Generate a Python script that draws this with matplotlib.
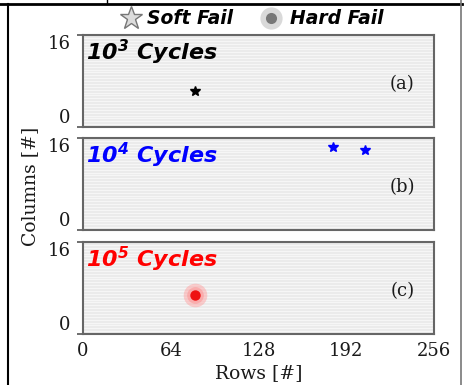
import numpy as np
import matplotlib
matplotlib.use('Agg')
import matplotlib.pyplot as plt
from matplotlib.lines import Line2D

plt.rcParams['mathtext.fontset'] = 'custom'
plt.rcParams['mathtext.bf'] = 'DejaVu Sans:bold:italic'
plt.rcParams['mathtext.rm'] = 'DejaVu Sans:bold:italic'

# data: failing cells (row, column) per cycle count
cycles = [3, 4, 5]
panel_tags = ['(a)', '(b)', '(c)']
title_colors = ['black', 'blue', 'red']
soft_rows = [[82], [182, 206], []]
soft_cols = [[6.3], [14.4, 13.9], []]
hard_rows = [[], [], [82]]
hard_cols = [[], [], [6.8]]
xticks = [0, 64, 128, 192, 256]
yticks = [0, 16]

fig = plt.figure(figsize=(4.67, 3.85), dpi=100)
W, H = 467, 385

def fx(px):
    return px / W

def fy(py):
    return 1 - py / H

# table borders around the figure
fig.add_artist(Line2D([0, fx(462)], [fy(3.5), fy(3.5)], color='black', lw=2))
fig.add_artist(Line2D([fx(8), fx(8)], [fy(3.5), 0], color='black', lw=1.5))
fig.add_artist(Line2D([fx(107), fx(107)], [1, fy(3.5)], color='black', lw=1))
fig.add_artist(Line2D([fx(461), fx(461)], [1, 0], color='#777777', lw=1.2))

serif = 'DejaVu Serif'
txtc = '#1a1a1a'
tops = [35, 138, 242]
axes = []
for i in range(3):
    top = tops[i]
    ax = fig.add_axes([fx(83), fy(top + 92), fx(351), 92 / H])
    axes.append(ax)
    ax.set_facecolor('#e9e9e9')
    ax.set_xlim(0, 256)
    ax.set_ylim(0, 16)
    ax.set_yticks(yticks)
    ax.set_yticks(np.arange(0, 16.01, 0.5), minor=True)
    ax.grid(True, which='minor', axis='y', color='#f6f6f6', lw=1.0)
    ax.tick_params(axis='y', which='minor', length=0)
    ax.tick_params(axis='y', which='major', length=4, width=1.2, color='#555555', pad=5)
    for s in ax.spines.values():
        s.set_color('#666666')
        s.set_linewidth(1.5)
    ax.set_xticks(xticks)
    if i < 2:
        ax.tick_params(axis='x', length=0, labelbottom=False)
    else:
        ax.tick_params(axis='x', length=0, pad=6)
    for lab in ax.get_xticklabels() + ax.get_yticklabels():
        lab.set_fontfamily(serif)
        lab.set_fontsize(13)
        lab.set_color(txtc)
    ylabs = ax.get_yticklabels()
    ylabs[0].set_verticalalignment('bottom')
    ylabs[1].set_verticalalignment('top')

    ax.plot(soft_rows[i], soft_cols[i], linestyle='none', marker='*',
            markersize=7.5, color=title_colors[i], zorder=5)
    if hard_rows[i]:
        ax.plot(hard_rows[i], hard_cols[i], linestyle='none', marker='o',
                markersize=17, color='#ff9999', alpha=0.45, mec='none', zorder=4)
        ax.plot(hard_rows[i], hard_cols[i], linestyle='none', marker='o',
                markersize=12, color='#ff8080', alpha=0.4, mec='none', zorder=4)
        ax.plot(hard_rows[i], hard_cols[i], linestyle='none', marker='o',
                markersize=7.5, color='#ee1111', mec='none', zorder=5)

    ax.text(0.008, 0.97, r'$\mathbf{10^{%d}}$ Cycles' % cycles[i],
            transform=ax.transAxes, ha='left', va='top', fontsize=16,
            fontweight='bold', fontstyle='italic', color=title_colors[i],
            family='DejaVu Sans')
    ax.text(0.91, 0.47, panel_tags[i], transform=ax.transAxes, ha='center',
            va='center', fontsize=13, family=serif, color=txtc)

axes[2].set_xlabel('Rows [#]', family=serif, fontsize=13.5, color=txtc, labelpad=3)
fig.text(fx(30), fy(186), 'Columns [#]', rotation=90, ha='center', va='center',
         family=serif, fontsize=13.5, color=txtc)

# legend across the top
fig.add_artist(Line2D([fx(131)], [fy(18)], marker='*', markersize=17,
                      markerfacecolor='#dcdcdc', markeredgecolor='#777777',
                      markeredgewidth=1.0, linestyle='none'))
fig.text(fx(147), fy(18), 'Soft Fail', ha='left', va='center', fontsize=13.5,
         fontweight='bold', fontstyle='italic', family='DejaVu Sans')
fig.add_artist(Line2D([fx(271)], [fy(18)], marker='o', markersize=16,
                      markerfacecolor='#d0d0d0', markeredgecolor='none',
                      alpha=0.8, linestyle='none'))
fig.add_artist(Line2D([fx(271)], [fy(18)], marker='o', markersize=8,
                      markerfacecolor='#777777', markeredgecolor='none',
                      linestyle='none'))
fig.text(fx(290), fy(18), 'Hard Fail', ha='left', va='center', fontsize=13.5,
         fontweight='bold', fontstyle='italic', family='DejaVu Sans')

fig.savefig('out.png', dpi=100)
